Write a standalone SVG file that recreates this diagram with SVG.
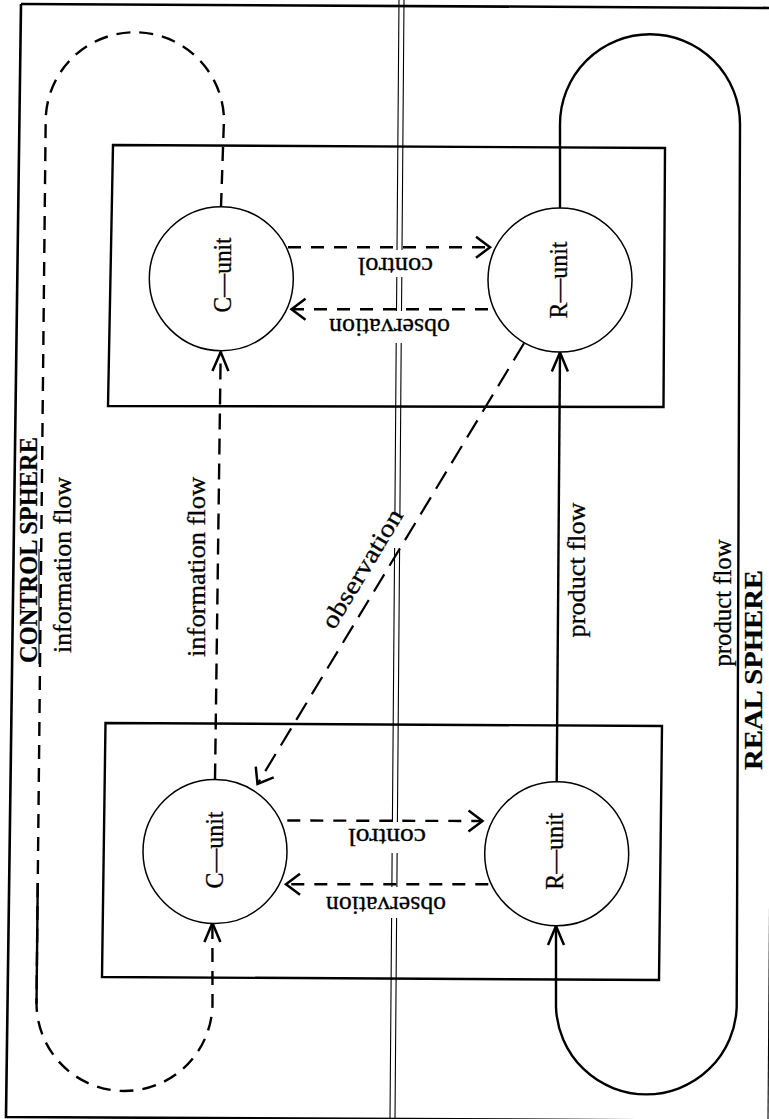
<svg xmlns="http://www.w3.org/2000/svg" width="769" height="1119" viewBox="0 0 769 1119">
<style>
.frame{fill:none;stroke:#000;stroke-width:2.6}
.box{fill:none;stroke:#000;stroke-width:2.4;stroke-linejoin:miter}
.unit{fill:#fff;stroke:#000;stroke-width:1.5}
.solid{fill:none;stroke:#000;stroke-width:2.4}
.dash{fill:none;stroke:#000;stroke-width:2.4;stroke-dasharray:13 10}
.dashv{fill:none;stroke:#000;stroke-width:2.4;stroke-dasharray:16 9}
.dashl{fill:none;stroke:#000;stroke-width:2.4;stroke-dasharray:14 9}
.dashd{fill:none;stroke:#000;stroke-width:2.2;stroke-dasharray:20 10}
.thin{fill:none;stroke:#000;stroke-width:1.1}
text{font-family:"Liberation Serif","DejaVu Serif",serif;fill:#000;font-size:25px;stroke:#000;stroke-width:0.3}
.bold{font-weight:bold;stroke-width:0.2}
</style>
<defs>
<marker id="ah" markerUnits="userSpaceOnUse" viewBox="-25 -25 50 50" markerWidth="50" markerHeight="50" refX="0" refY="0" orient="auto" overflow="visible">
<path d="M-14,-10.5 L0,0 L-14,10.5" fill="none" stroke="#000" stroke-width="2.5" stroke-dasharray="none"/>
</marker>
<marker id="ahn" markerUnits="userSpaceOnUse" viewBox="-25 -25 50 50" markerWidth="50" markerHeight="50" refX="0" refY="0" orient="auto" overflow="visible">
<path d="M-19,-8 L0,0 L-19,8" fill="none" stroke="#000" stroke-width="2.5" stroke-dasharray="none"/>
</marker>
</defs>

<g id="frame">
<path class="frame" d="M21,4 L778,8"/>
<path class="frame" d="M21,4 L6,1117 L772,1121"/>
<path class="thin" d="M776,8 L768,1119"/>
</g>

<g id="divider">
<path class="thin" d="M399,0 L397,250 M396.8,277 L396.5,311 M396.2,343 L394.9,515 M394.6,548 L392.4,822 M392.1,853 L391.9,887 M391.6,918 L390,1119"/>
<path class="thin" d="M404,0 L402,250 M401.8,277 L401.5,311 M401.2,343 L399.9,515 M399.6,548 L397.4,822 M397.1,853 L396.9,887 M396.6,918 L395,1119"/>
</g>

<g id="box-upper">
<path class="box" d="M113,145 L665,148 L663.5,407 L108,406 Z"/>
</g>
<g id="box-lower">
<path class="box" d="M105.5,723 L662,726 L659,980 L102,977 Z"/>
</g>

<g id="connectors">
<path class="dashl" d="M221,207 L224,118.5 A89.2,89.2 0 0 0 45.7,118.5 L36.5,1003 A88,88 0 0 0 212.5,1003 L212.4,923" marker-end="url(#ahn)"/>
<path class="solid" d="M37.75,883 L36.5,1004"/>
<path class="solid" d="M560,208 L560,124.3 A90,90 0 0 1 740,124.3 L736.7,1007 A90.4,90.4 0 0 1 556,1007 L556,926" marker-end="url(#ahn)"/>
<path class="dashv" d="M215,779.5 L220.7,352" marker-end="url(#ahn)"/>
<path class="solid" d="M556.7,781.7 L560,352.5" marker-end="url(#ahn)"/>
<path class="dash" d="M288,247.3 L490,247.3" marker-end="url(#ah)"/>
<path class="dash" d="M488,309.3 L291.5,309.3" marker-end="url(#ah)"/>
<path class="dash" d="M287.3,820.5 L482.5,821" marker-end="url(#ah)"/>
<path class="dash" d="M488.3,884.3 L286,884.3" marker-end="url(#ah)"/>
<path class="dashd" d="M524,343.3 L257.5,784" marker-end="url(#ah)"/>
</g>

<g id="c-unit-upper">
<circle class="unit" cx="221.3" cy="278.7" r="72"/>
<text x="230.5" y="275" text-anchor="middle" textLength="75" lengthAdjust="spacingAndGlyphs" transform="rotate(-90 230.5 275)">C—unit</text>
</g>
<g id="r-unit-upper">
<circle class="unit" cx="560" cy="280" r="72"/>
<text x="567.3" y="280" text-anchor="middle" textLength="77" lengthAdjust="spacingAndGlyphs" transform="rotate(-90 567.3 280)">R—unit</text>
</g>
<g id="c-unit-lower">
<circle class="unit" cx="215" cy="851.5" r="72"/>
<text x="222.7" y="850" text-anchor="middle" textLength="77" lengthAdjust="spacingAndGlyphs" transform="rotate(-90 222.7 850)">C—unit</text>
</g>
<g id="r-unit-lower">
<circle class="unit" cx="556.7" cy="853.7" r="72"/>
<text x="563.3" y="851.3" text-anchor="middle" textLength="77" lengthAdjust="spacingAndGlyphs" transform="rotate(-90 563.3 851.3)">R—unit</text>
</g>

<g id="labels">
<text x="395.5" y="257.5" text-anchor="middle" textLength="75" lengthAdjust="spacingAndGlyphs" transform="rotate(180 395.5 257.5)">control</text>
<text x="389.5" y="318.5" text-anchor="middle" textLength="121" lengthAdjust="spacingAndGlyphs" transform="rotate(180 389.5 318.5)">observation</text>
<text x="387" y="829" text-anchor="middle" textLength="78" lengthAdjust="spacingAndGlyphs" transform="rotate(180 387 829)">control</text>
<text x="386" y="896.5" text-anchor="middle" textLength="120" lengthAdjust="spacingAndGlyphs" transform="rotate(180 386 896.5)">observation</text>
<text class="bold" x="36.5" y="550" text-anchor="middle" textLength="226" lengthAdjust="spacingAndGlyphs" transform="rotate(-90 36.5 550)">CONTROL SPHERE</text>
<path class="thin" d="M39,549 L39,664"/>
<text x="71" y="565" text-anchor="middle" textLength="176" lengthAdjust="spacingAndGlyphs" transform="rotate(-90 71 565)">information flow</text>
<text x="205" y="567" text-anchor="middle" textLength="180" lengthAdjust="spacingAndGlyphs" transform="rotate(-90 205 567)">information flow</text>
<text x="369" y="573" text-anchor="middle" textLength="135" lengthAdjust="spacingAndGlyphs" transform="rotate(-58.9 369 573)">observation</text>
<text x="585" y="570" text-anchor="middle" textLength="135" lengthAdjust="spacingAndGlyphs" transform="rotate(-90 585 570)">product flow</text>
<text x="731" y="603" text-anchor="middle" textLength="127" lengthAdjust="spacingAndGlyphs" transform="rotate(-90 731 603)">product flow</text>
<text class="bold" x="762" y="670" text-anchor="middle" textLength="200" lengthAdjust="spacingAndGlyphs" transform="rotate(-90 762 670)">REAL SPHERE</text>
</g>
</svg>
